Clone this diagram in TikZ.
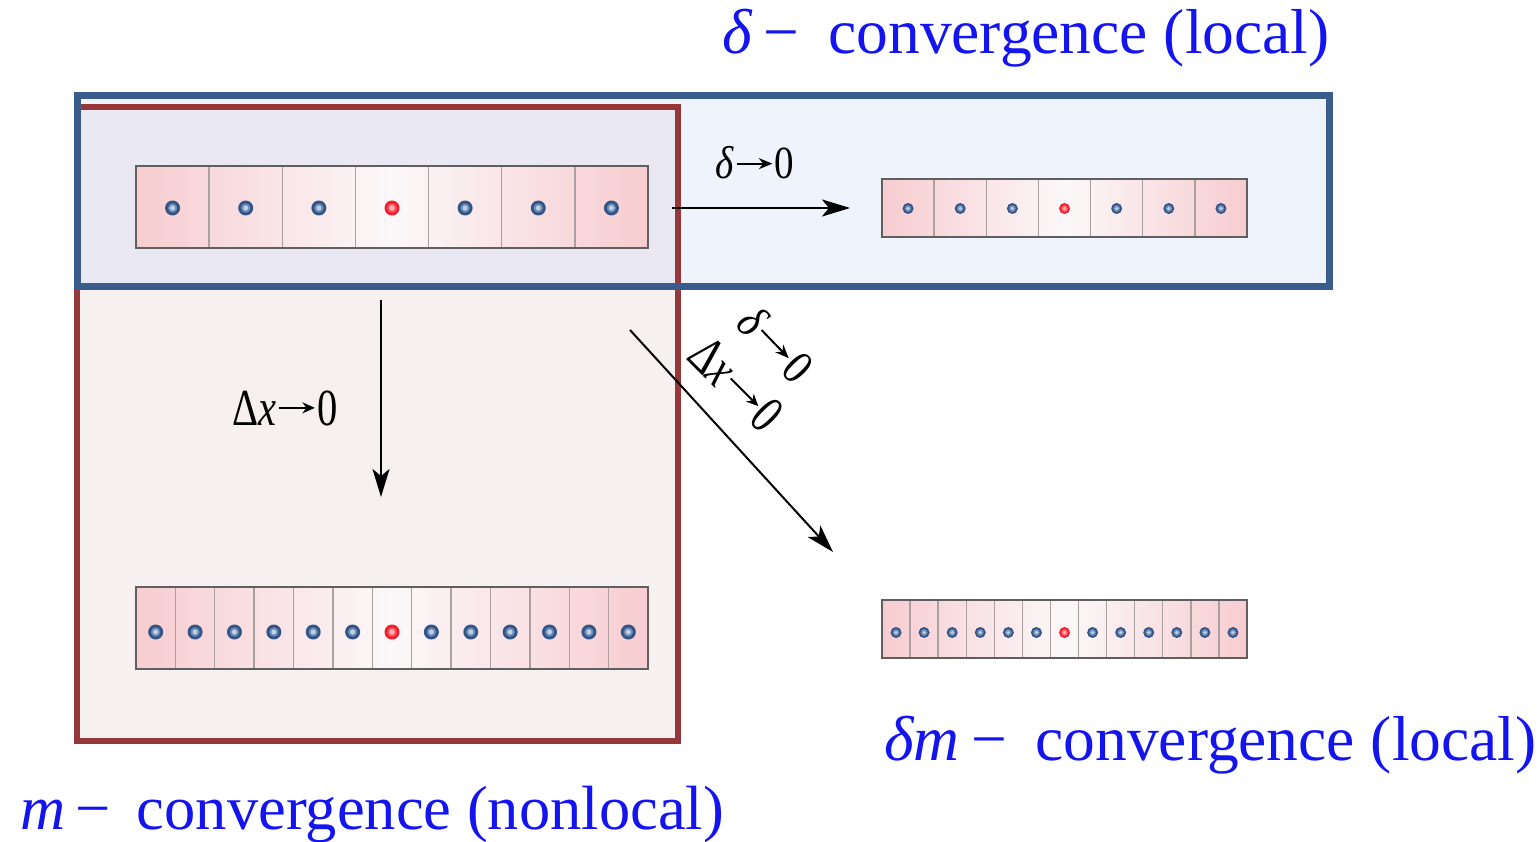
\documentclass[tikz,border=0pt]{standalone}
\usepackage{fontspec}
\setmainfont{Liberation Serif}
\usetikzlibrary{arrows.meta}
\definecolor{bluebox}{RGB}{58,92,140}
\definecolor{bluefill}{RGB}{239,243,252}
\definecolor{overfill}{RGB}{234,232,243}
\definecolor{redbox}{RGB}{150,56,58}
\definecolor{redfill}{RGB}{247,240,240}
\definecolor{titleblue}{RGB}{20,20,240}
\definecolor{cellpink}{RGB}{247,204,208}
\definecolor{cellwhite}{RGB}{251,248,249}
\definecolor{celledge}{RGB}{95,95,95}
\definecolor{cellsep}{RGB}{170,160,160}
\definecolor{dotring}{RGB}{50,84,135}
\definecolor{dotmid}{RGB}{110,140,180}
\definecolor{dotcore}{RGB}{190,208,228}
\definecolor{redring}{RGB}{245,30,45}
\definecolor{redmid}{RGB}{255,95,105}
\definecolor{redcore}{RGB}{255,180,180}
\pgfdeclarehorizontalshading{barshade}{100bp}{color(0bp)=(cellpink); color(25bp)=(cellpink); color(50bp)=(cellwhite); color(75bp)=(cellpink); color(100bp)=(cellpink)}
\newcommand{\larr}[1]{\tikz[baseline={-0.33em}]\draw[line width=2pt,-{Stealth[length=16pt,width=11pt]}] (0pt,0pt) -- (#1,0pt);}
\newcommand{\mydot}[4]{% x, y, r, colour prefix
  \fill[#4ring] (#1,#2) circle[radius=#3];
  \fill[#4mid] (#1,#2) circle[radius={0.62*#3}];
  \fill[#4core] (#1,#2) circle[radius={0.34*#3}];
}
\newcommand{\cellbar}[9]{%
  \node[barnode, anchor=north west, minimum width={(#4-#2)*1pt}, minimum height={(#5-#3)*1pt}] (#1) at (#2,#3) {};
  \pgfmathsetmacro{\cw}{(#4-#2)/#6}
  \pgfmathtruncatemacro{\nm}{#6-1}
  \foreach \i in {1,...,\nm} {\draw[cellline] ({#2+\i*\cw},#3) -- ({#2+\i*\cw},#5);}
  \draw[barborder] (#2,#3) rectangle (#4,#5);
  \foreach \i in {1,...,#6} {
    \pgfmathsetmacro{\cx}{#2+(\i-0.5)*\cw}
    \ifnum\i=#8\relax
      \mydot{\cx}{#9}{#7}{red}
    \else
      \mydot{\cx}{#9}{#7}{dot}
    \fi
  }
}
\begin{document}
\begin{tikzpicture}[x=1pt,y=-1pt,
  barnode/.style={inner sep=0pt, outer sep=0pt, shade, shading=barshade},
  cellline/.style={draw=cellsep, line width=1.4pt},
  barborder/.style={draw=celledge, line width=2pt},
  arr/.style={line width=2pt, -{Stealth[length=28pt,width=17pt,inset=7pt]}},
  lab/.style={inner sep=0pt, text=black},
  title/.style={inner sep=0pt, text=titleblue, font=\fontsize{63.5}{70}\selectfont}]
\useasboundingbox (0,0) rectangle (1539,842);
% boxes
\fill[redfill] (77,107) rectangle (678,741);
\fill[bluefill] (77,96) rectangle (1329,287);
\fill[overfill] (77,107) rectangle (678,287);
\draw[redbox, line width=6pt] (77,107) rectangle (678,741);
\draw[bluebox, line width=7pt] (77,96) rectangle (1329,287);
% bars
\cellbar{tl}{136}{166}{648}{248}{7}{7.5}{4}{208}
\cellbar{tr}{882}{179}{1247}{237}{7}{5.5}{4}{208.5}
\cellbar{bl}{136}{587}{648}{669}{13}{7.5}{7}{632}
\cellbar{br}{882}{600}{1247}{658}{13}{5.5}{7}{632.5}
% arrows
\coordinate (h1) at (672,208); \coordinate (h2) at (850,208);
\coordinate (v1) at (381,300); \coordinate (v2) at (381,497);
\coordinate (d1) at (630,330); \coordinate (d2) at (833,552);
\draw[arr] (h1) -- (h2);
\draw[arr] (v1) -- (v2);
\draw[arr] (d1) -- (d2);
% labels
\node[lab, font=\fontsize{46}{52}\selectfont] (lh) at (755,163) {\scalebox{0.85}[1]{\textit{δ}\hspace{2pt}\larr{42pt}\hspace{2pt}0}};
\node[lab, font=\fontsize{52}{58}\selectfont] (lv) at (285,408) {\scalebox{0.78}[1]{Δ\textit{x}\hspace{2pt}\larr{46pt}\hspace{2pt}0}};
\node[lab, font=\fontsize{48}{54}\selectfont, rotate=-46] (ld1) at (776,344) {\scalebox{0.85}[1]{\textit{δ}\hspace{2pt}\larr{46pt}\hspace{2pt}0}};
\node[lab, font=\fontsize{54}{60}\selectfont, rotate=-45] (ld2) at (736,384) {\scalebox{0.75}[1]{Δ\textit{x}\hspace{2pt}\larr{52pt}\hspace{2pt}0}};
% titles
\node[title, anchor=base west] (t1) at (722,54) {\textit{δ}\hspace{0.18em}−\hspace{0.45em}convergence (local)};
\node[title, anchor=base west] (t2) at (884,760) {\textit{δm}\hspace{0.18em}−\hspace{0.45em}convergence (local)};
\node[title, anchor=base west, font=\fontsize{62.5}{70}\selectfont] (t3) at (20,829) {\textit{m}\hspace{0.16em}−\hspace{0.42em}convergence (nonlocal)};
\end{tikzpicture}
\end{document}
